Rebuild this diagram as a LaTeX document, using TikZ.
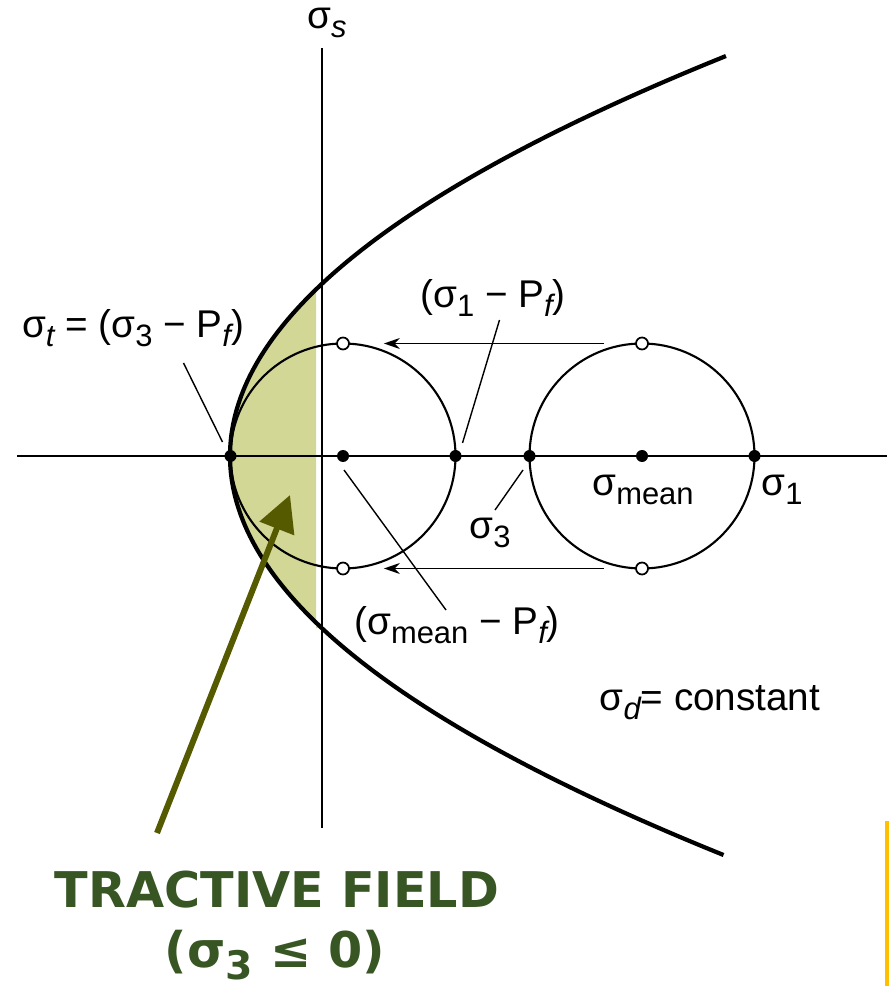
\documentclass[tikz,border=0pt]{standalone}
\usepackage{fontspec}
\setmainfont{Liberation Sans}
\newfontfamily\boldlab{DejaVu Sans}
\usetikzlibrary{positioning}
\usetikzlibrary{arrows.meta}

\definecolor{fieldfill}{RGB}{210,215,150}
\definecolor{fieldarrow}{RGB}{85,90,0}
\definecolor{fieldtext}{RGB}{55,86,35}
\definecolor{barcolor}{RGB}{255,192,0}

\newcommand{\sbs}[1]{\raisebox{-0.45ex}{\scalebox{0.8}{#1}}}

\tikzset{
  dot/.style={circle, fill=black, inner sep=0pt, minimum size=1.2mm},
  hole/.style={circle, draw, fill=white, inner sep=0pt, minimum size=1.2mm, line width=0.5pt},
  lab/.style={font=\fontsize{11}{13}\selectfont, inner sep=1pt},
  leader/.style={line width=0.4pt},
  shiftarrow/.style={line width=0.5pt, -{Stealth[length=1.6mm, width=1.1mm]}, shorten <=0.31cm, shorten >=0.34cm},
  fieldlab/.style={font=\boldlab\bfseries\fontsize{14}{16}\selectfont, text=fieldtext, inner sep=1pt}
}

\begin{document}
\begin{tikzpicture}
  \useasboundingbox (0,0) rectangle (8.89,-9.88);
  \clip (0,0) rectangle (8.89,-9.88);

  % Tractive field
  \fill[fieldfill] plot[domain=-1.72:1.66, samples=40, smooth] ({2.30+0.31*\x*\x},{-4.56+\x})
    -- (3.16,-2.90) -- (3.16,-6.28) -- cycle;

  % Axes
  \draw[line width=0.6pt] (0.17,-4.56) -- (8.87,-4.56);
  \draw[line width=0.6pt] (3.22,-0.48) -- (3.22,-8.28);
  \node[lab, anchor=north west] (ss) at (3.03,-0.04) {σ\sbs{\itshape s}};

  % Failure envelope
  \draw[line width=1.2pt] plot[domain=-3.99:4.0, samples=100, smooth] ({2.30+0.31*\x*\x},{-4.56+\x});

  % Mohr circles
  \draw[line width=0.6pt] (3.43,-4.56) circle (1.125);
  \draw[line width=0.6pt] (6.42,-4.56) circle (1.125);

  \node[dot] (v) at (2.305,-4.56) {};
  \node[dot] (m1) at (3.43,-4.56) {};
  \node[dot] (p1) at (4.555,-4.56) {};
  \node[dot] (q3) at (5.295,-4.56) {};
  \node[dot] (m2) at (6.42,-4.56) {};
  \node[dot] (q1) at (7.545,-4.56) {};

  \node[hole] (t1) at (3.43,-3.435) {};
  \node[hole] (b1) at (3.43,-5.685) {};
  \node[hole] (t2) at (6.42,-3.435) {};
  \node[hole] (b2) at (6.42,-5.685) {};

  \draw[shiftarrow] (t2) -- (t1);
  \draw[shiftarrow] (b2) -- (b1);

  % Labels and leaders
  \node[lab] (lt) at (1.33,-3.28) {σ\sbs{\itshape t} = (σ\sbs{3} − P\sbs{\itshape f})};
  \draw[leader] ([shift={(-0.08,0.14)}]v.center) -- ++(-0.39,0.79);

  \node[lab] (lp1) at (4.93,-2.98) {(σ\sbs{1} − P\sbs{\itshape f})};
  \draw[leader] ([shift={(0.07,0.13)}]p1.center) -- ++(0.37,1.23);

  \node[lab] (lq3) at (4.90,-5.33) {σ\sbs{3}};
  \draw[leader] ([shift={(-0.065,-0.14)}]q3.center) -- ++(-0.28,-0.40);

  \node[lab] (lm1) at (4.57,-6.25) {(σ\sbs{mean} − P\sbs{\itshape f})};
  \draw[leader] ([shift={(0.01,-0.14)}]m1.center) -- ++(1.02,-1.40);

  \node[lab] (lm2) at (6.43,-4.90) {σ\sbs{mean}};
  \node[lab] (lq1) at (7.82,-4.90) {σ\sbs{1}};
  \node[lab] (ld) at (7.10,-7.03) {σ\sbs{\itshape d}= constant};

  % Tractive field label
  \node[fieldlab] (trac) at (2.77,-8.90) {TRACTIVE FIELD};
  \node[fieldlab] (cond) at (2.75,-9.55) {(σ\sbs{3} ≤ 0)};
  \coordinate (tail) at (1.57,-8.33);
  \coordinate (tip) at (2.90,-4.95);
  \draw[fieldarrow, line width=1.7pt, -{Triangle[length=3.6mm, width=3.6mm]}] (tail) -- (tip);

  \fill[barcolor] (8.85,-8.21) rectangle (8.89,-9.86);
\end{tikzpicture}
\end{document}
